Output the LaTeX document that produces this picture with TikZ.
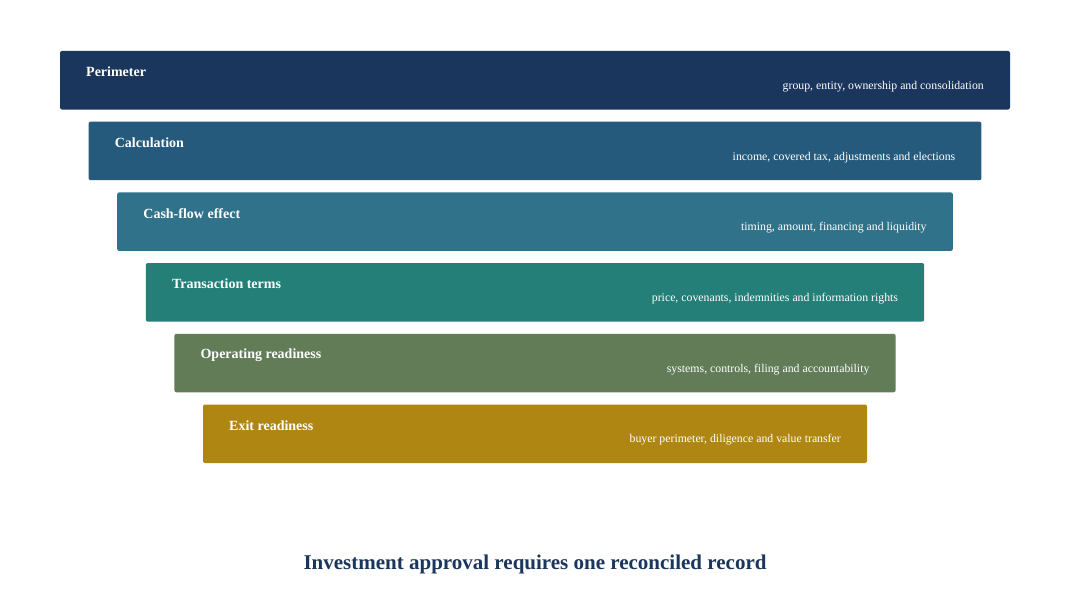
\documentclass[tikz,border=0pt]{standalone}
\usepackage{fontspec}
\setmainfont{Liberation Serif}
\definecolor{c1}{HTML}{1B365D}
\definecolor{c2}{HTML}{265A7C}
\definecolor{c3}{HTML}{30728A}
\definecolor{c4}{HTML}{237F78}
\definecolor{c5}{HTML}{627C58}
\definecolor{c6}{HTML}{B08613}
\begin{document}
\begin{tikzpicture}[x=1pt,y=-1pt,
  band/.style={rounded corners=2pt, draw=none},
  ttl/.style={anchor=west, text=white, font=\fontsize{14}{16}\selectfont\bfseries, inner sep=0pt},
  sub/.style={anchor=east, text=white, font=\fontsize{11.8}{14}\selectfont, inner sep=0pt}]
\useasboundingbox[fill=white] (0,0) rectangle (1070,610);
\foreach \i/\col/\t/\s in {0/c1/Perimeter/{group, entity, ownership and consolidation},
  1/c2/Calculation/{income, covered tax, adjustments and elections},
  2/c3/Cash-flow effect/{timing, amount, financing and liquidity},
  3/c4/Transaction terms/{price, covenants, indemnities and information rights},
  4/c5/Operating readiness/{systems, controls, filing and accountability},
  5/c6/Exit readiness/{buyer perimeter, diligence and value transfer}}{
  \pgfmathsetmacro{\xl}{60+28.6*\i}
  \pgfmathsetmacro{\xr}{1010-28.6*\i}
  \pgfmathsetmacro{\yt}{51+70.7*\i}
  \pgfmathsetmacro{\yb}{\yt+58.5}
  \fill[band, \col] (\xl,\yt) rectangle (\xr,\yb);
  \node[ttl] (t\i) at (\xl+26,\yt+21) {\t};
  \node[sub] (s\i) at (\xr-26,\yt+35.5) {\s};
}
\node[text=c1, font=\fontsize{21}{24}\selectfont\bfseries] (foot) at (535,564.5) {Investment approval requires one reconciled record};
\end{tikzpicture}
\end{document}
